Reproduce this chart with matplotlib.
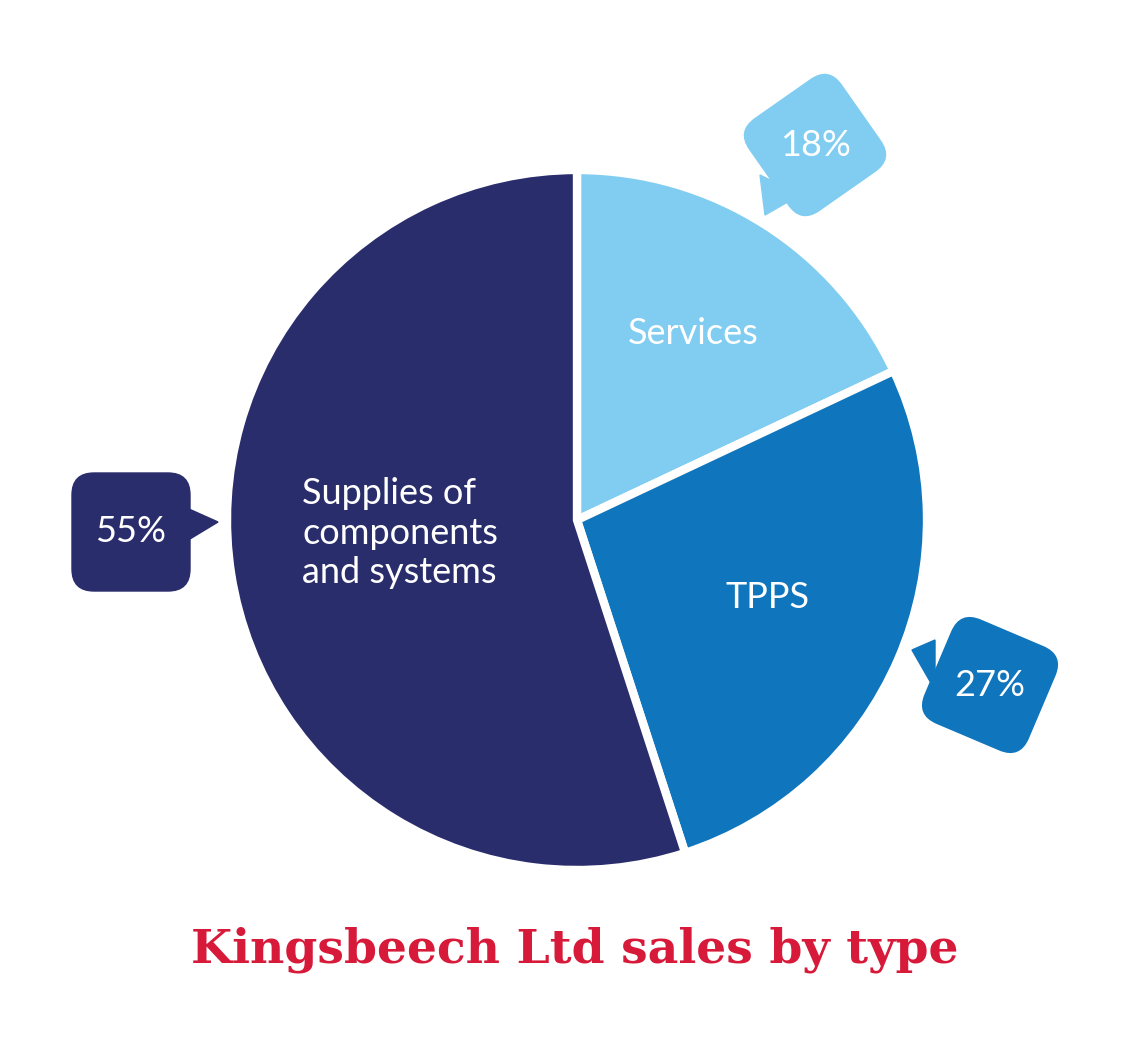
import matplotlib
matplotlib.use("Agg")
import matplotlib.pyplot as plt
from matplotlib.patches import FancyBboxPatch, Polygon
from matplotlib.transforms import Affine2D

categories = ["Services", "TPPS", "Supplies of\ncomponents\nand systems"]
values = [18, 27, 55]
pct_labels = ["18%", "27%", "55%"]
colors = ["#80CDF1", "#0F75BC", "#2A2D6B"]
title = "Kingsbeech Ltd sales by type"

W, H = 1142, 1045
fig = plt.figure(figsize=(W/100, H/100), dpi=100)
ax = fig.add_axes([0, 0, 1, 1])
ax.set_xlim(0, W); ax.set_ylim(0, H); ax.set_aspect("equal"); ax.axis("off")

def Y(y): return H - y

cx, cy, r = 577, Y(520), 350
wedges, _ = ax.pie(values, colors=colors, startangle=90, counterclock=False,
                   center=(cx, cy), radius=r, frame=True,
                   wedgeprops=dict(edgecolor="white", linewidth=6))
ax.set_xlim(0, W); ax.set_ylim(0, H); ax.axis("off")

font = "Lato"
ax.text(628, Y(333), categories[0], color="white", fontsize=26, family=font, va="center", ha="left")
ax.text(767, Y(598), categories[1], color="white", fontsize=26, family=font, va="center", ha="center")
ax.text(302, Y(533), categories[2], color="white", fontsize=26, family=font, va="center", ha="left", linespacing=1.25)

def callout(bx, by, size, angle, tip, base, color, label):
    ax.add_patch(Polygon([tip, base[0], base[1]], closed=True, color=color, zorder=3))
    p = FancyBboxPatch((bx - size/2, by - size/2), size, size,
                       boxstyle="round,pad=0,rounding_size=22", color=color, zorder=3)
    p.set_transform(Affine2D().rotate_deg_around(bx, by, angle) + ax.transData)
    ax.add_patch(p)
    ax.text(bx, by, label, color="white", fontsize=26, family=font, ha="center", va="center", zorder=4)

callout(815, Y(145), 112, 35, (765, Y(215)), [(760, Y(175)), (800, Y(195))], colors[0], pct_labels[0])
callout(990, Y(685), 112, -23, (912, Y(650)), [(935, Y(640)), (935, Y(690))], colors[1], pct_labels[1])
callout(131, Y(532), 118, 0, (218, Y(522)), [(180, Y(505)), (180, Y(545))], colors[2], pct_labels[2])

ax.text(575, Y(950), title, color="#D7193A", fontsize=34, fontweight="bold",
        family="DejaVu Serif", ha="center", va="center")

fig.savefig("out.png", dpi=100)
